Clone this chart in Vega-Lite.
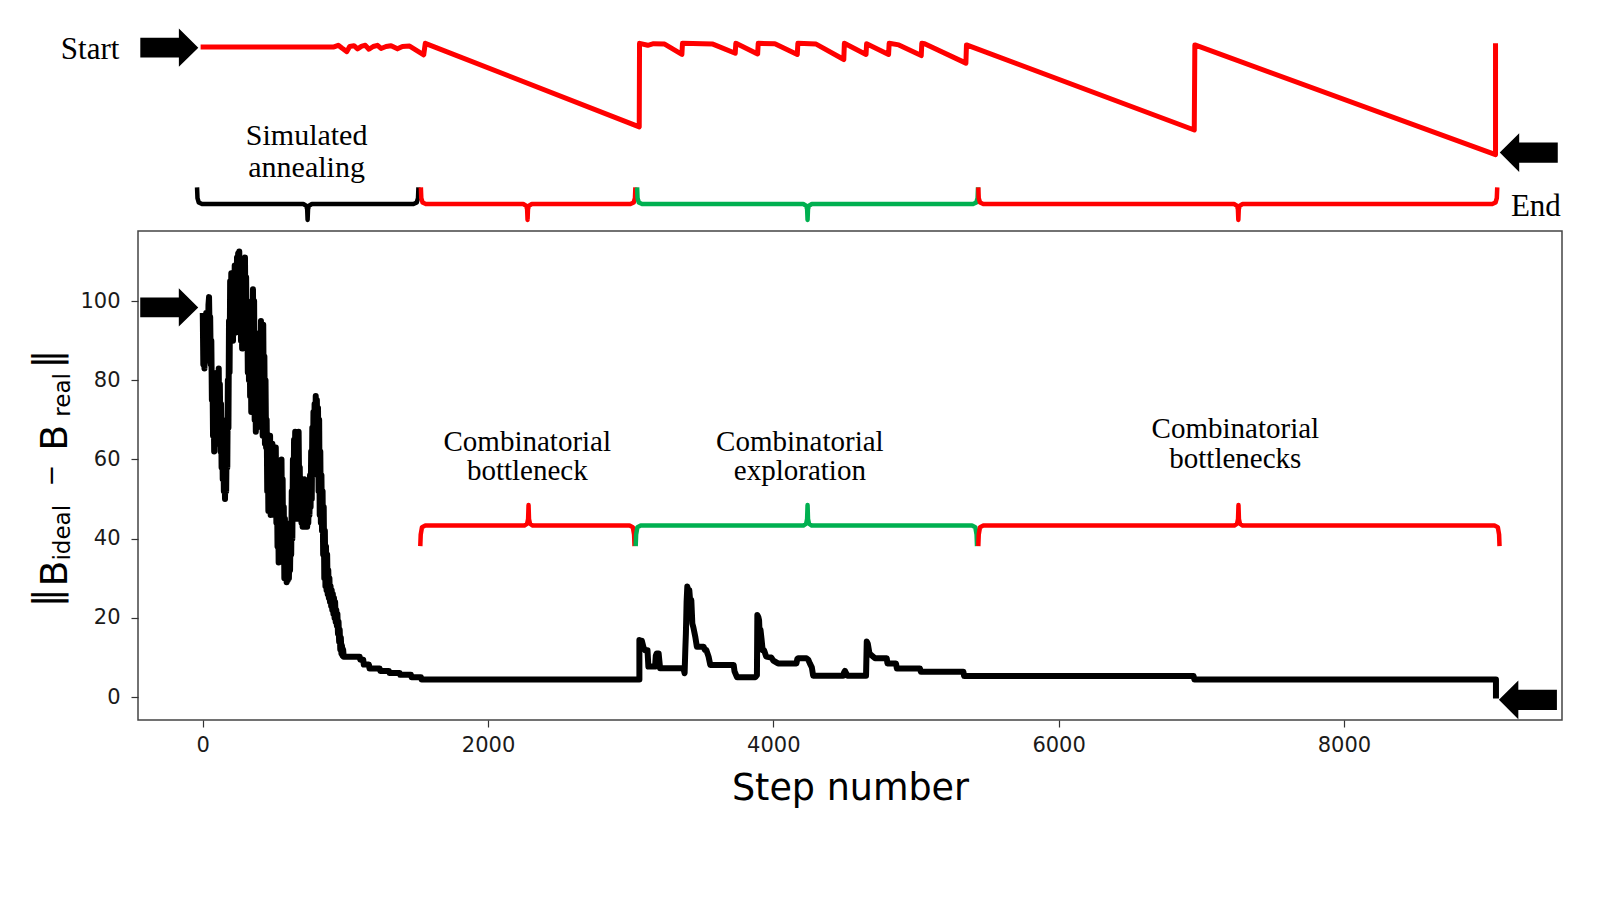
{
  "$schema": "https://vega.github.io/schema/vega-lite/v6.json",
  "width": 1424,
  "height": 489,
  "autosize": {"type": "none"},
  "padding": {"left": 138, "top": 231, "right": 38, "bottom": 180},
  "background": "white",
  "config": {"view": {"stroke": "#444444", "strokeWidth": 1.5}},
  "datasets": {
    "main": [
      {"x":0,"y":97},{"x":4,"y":84},{"x":8,"y":95},{"x":12,"y":83},{"x":16,"y":96},{"x":20,"y":86},{"x":24,"y":97},{"x":28,"y":88},{"x":32,"y":94},{"x":36,"y":85},
      {"x":40,"y":99},{"x":44,"y":101},{"x":48,"y":92},{"x":52,"y":96},{"x":56,"y":84},{"x":60,"y":90},{"x":64,"y":75},{"x":68,"y":82},{"x":72,"y":66},{"x":76,"y":78},
      {"x":80,"y":62},{"x":84,"y":72},{"x":88,"y":80},{"x":92,"y":68},{"x":96,"y":78},{"x":100,"y":64},{"x":104,"y":82},{"x":108,"y":71},{"x":112,"y":83},{"x":116,"y":66},
      {"x":120,"y":79},{"x":124,"y":62},{"x":128,"y":74},{"x":132,"y":58},{"x":136,"y":70},{"x":140,"y":55},{"x":144,"y":66},{"x":148,"y":52},{"x":152,"y":63},{"x":156,"y":50},
      {"x":160,"y":60},{"x":164,"y":52},{"x":168,"y":66},{"x":172,"y":58},{"x":176,"y":80},{"x":180,"y":68},{"x":184,"y":95},{"x":188,"y":82},{"x":192,"y":105},{"x":196,"y":90},
      {"x":200,"y":107},{"x":204,"y":95},{"x":208,"y":104},{"x":212,"y":90},{"x":216,"y":107},{"x":220,"y":94},{"x":224,"y":109},{"x":228,"y":92},{"x":232,"y":108},{"x":236,"y":96},
      {"x":240,"y":111},{"x":244,"y":100},{"x":248,"y":112},{"x":252,"y":98},{"x":256,"y":112.5},{"x":260,"y":95},{"x":264,"y":108},{"x":268,"y":90},{"x":272,"y":105},{"x":276,"y":88},
      {"x":280,"y":103},{"x":284,"y":94},{"x":288,"y":110},{"x":292,"y":97},{"x":296,"y":111},{"x":300,"y":92},{"x":304,"y":106},{"x":308,"y":88},{"x":312,"y":100},{"x":316,"y":82},
      {"x":320,"y":96},{"x":324,"y":80},{"x":328,"y":98},{"x":332,"y":76},{"x":336,"y":94},{"x":340,"y":72},{"x":344,"y":99},{"x":348,"y":80},{"x":352,"y":103},{"x":356,"y":85},
      {"x":360,"y":100},{"x":364,"y":70},{"x":368,"y":84},{"x":372,"y":67},{"x":376,"y":78},{"x":380,"y":68},{"x":384,"y":82},{"x":388,"y":70},{"x":392,"y":88},{"x":396,"y":74},
      {"x":400,"y":92},{"x":404,"y":78},{"x":408,"y":95},{"x":412,"y":70},{"x":416,"y":90},{"x":420,"y":66},{"x":424,"y":94},{"x":428,"y":72},{"x":432,"y":86},{"x":436,"y":64},
      {"x":440,"y":80},{"x":444,"y":63},{"x":448,"y":70},{"x":452,"y":52},{"x":456,"y":64},{"x":460,"y":47},{"x":464,"y":62},{"x":468,"y":50},{"x":472,"y":66},{"x":476,"y":46},
      {"x":480,"y":60},{"x":484,"y":48},{"x":488,"y":64},{"x":492,"y":52},{"x":496,"y":62},{"x":500,"y":46},{"x":504,"y":58},{"x":508,"y":48},{"x":512,"y":63},{"x":516,"y":44},
      {"x":520,"y":55},{"x":524,"y":38},{"x":528,"y":52},{"x":532,"y":34},{"x":536,"y":48},{"x":540,"y":36},{"x":544,"y":56},{"x":548,"y":40},{"x":552,"y":60},{"x":556,"y":42},
      {"x":560,"y":55},{"x":564,"y":34},{"x":568,"y":48},{"x":572,"y":30},{"x":576,"y":45},{"x":580,"y":31},{"x":584,"y":40},{"x":588,"y":29},{"x":592,"y":38},{"x":596,"y":29.5},
      {"x":600,"y":36},{"x":604,"y":30},{"x":608,"y":40},{"x":612,"y":32},{"x":616,"y":44},{"x":620,"y":36},{"x":624,"y":52},{"x":628,"y":40},{"x":632,"y":60},{"x":636,"y":48},
      {"x":640,"y":65},{"x":644,"y":52},{"x":648,"y":67},{"x":652,"y":50},{"x":656,"y":64},{"x":660,"y":45},{"x":664,"y":60},{"x":668,"y":48},{"x":672,"y":67},{"x":676,"y":52},
      {"x":680,"y":58},{"x":684,"y":45},{"x":688,"y":55},{"x":692,"y":44},{"x":696,"y":52},{"x":700,"y":43},{"x":704,"y":54},{"x":708,"y":45},{"x":712,"y":55},{"x":716,"y":43},
      {"x":720,"y":52},{"x":724,"y":44},{"x":728,"y":50},{"x":732,"y":43},{"x":736,"y":48},{"x":740,"y":44},{"x":744,"y":52},{"x":748,"y":46},{"x":752,"y":56},{"x":756,"y":48},
      {"x":760,"y":62},{"x":764,"y":50},{"x":768,"y":68},{"x":772,"y":56},{"x":776,"y":72},{"x":780,"y":60},{"x":784,"y":74},{"x":788,"y":62},{"x":792,"y":76},{"x":796,"y":64},
      {"x":800,"y":75},{"x":804,"y":58},{"x":808,"y":73},{"x":812,"y":52},{"x":816,"y":70},{"x":820,"y":46},{"x":824,"y":62},{"x":828,"y":44},{"x":832,"y":56},{"x":836,"y":42},
      {"x":840,"y":52},{"x":844,"y":36},{"x":848,"y":48},{"x":852,"y":30},{"x":856,"y":42},{"x":860,"y":28},{"x":864,"y":38},{"x":868,"y":27},{"x":872,"y":36},{"x":876,"y":26},
      {"x":880,"y":32},{"x":884,"y":25},{"x":888,"y":30},{"x":892,"y":24},{"x":896,"y":28},{"x":900,"y":23},{"x":904,"y":27},{"x":908,"y":22},{"x":912,"y":26},{"x":916,"y":21},
      {"x":920,"y":25},{"x":924,"y":20},{"x":928,"y":24},{"x":932,"y":19},{"x":936,"y":22},{"x":940,"y":18},{"x":944,"y":21},{"x":948,"y":16},{"x":952,"y":19},{"x":956,"y":14},
      {"x":960,"y":17},{"x":964,"y":12},{"x":968,"y":15},{"x":972,"y":11},{"x":976,"y":13},{"x":980,"y":10.5},{"x":984,"y":12},{"x":988,"y":10.2},{"x":1000,"y":10.2},
      {"x":1100,"y":10.2},{"x":1104,"y":9.4},{"x":1125,"y":9.4},{"x":1129,"y":8.2},{"x":1165,"y":8.2},{"x":1169,"y":7.2},{"x":1240,"y":7.2},{"x":1244,"y":6.6},{"x":1305,"y":6.6},{"x":1309,"y":6.1},
      {"x":1380,"y":6.1},{"x":1384,"y":5.6},{"x":1460,"y":5.6},{"x":1464,"y":5.0},{"x":1530,"y":5.0},{"x":1534,"y":4.4},{"x":3061,"y":4.4},{"x":3061,"y":14.4},{"x":3070,"y":13.6},{"x":3078,"y":14.2},
      {"x":3090,"y":12.5},{"x":3101,"y":11.8},{"x":3118,"y":11.8},{"x":3124,"y":7.7},{"x":3171,"y":7.7},{"x":3176,"y":10.4},{"x":3182,"y":11.0},{"x":3196,"y":11.0},{"x":3206,"y":7.3},{"x":3369,"y":7.3},
      {"x":3378,"y":6.0},{"x":3383,"y":12.0},{"x":3387,"y":16},{"x":3392,"y":24},{"x":3397,"y":27.9},{"x":3405,"y":26.5},{"x":3411,"y":27},{"x":3420,"y":22.8},{"x":3425,"y":24.5},{"x":3432,"y":18.6},
      {"x":3440,"y":17.5},{"x":3453,"y":15.2},{"x":3464,"y":12.7},{"x":3511,"y":12.7},{"x":3520,"y":11.9},{"x":3530,"y":11.9},{"x":3546,"y":10.2},{"x":3558,"y":8.1},{"x":3722,"y":8.1},{"x":3728,"y":6.5},
      {"x":3745,"y":5.0},{"x":3874,"y":5.0},{"x":3885,"y":5.5},{"x":3888,"y":20.7},{"x":3895,"y":20.2},{"x":3900,"y":19.4},{"x":3905,"y":15},{"x":3910,"y":17},{"x":3918,"y":14.4},{"x":3925,"y":11.8},
      {"x":3935,"y":11.8},{"x":3950,"y":10.2},{"x":3985,"y":10.0},{"x":4000,"y":9.2},{"x":4033,"y":8.5},{"x":4162,"y":8.5},{"x":4168,"y":9.6},{"x":4174,"y":9.8},{"x":4232,"y":9.8},{"x":4245,"y":9.4},
      {"x":4256,"y":8.5},{"x":4270,"y":7.5},{"x":4279,"y":5.4},{"x":4490,"y":5.4},{"x":4496,"y":6.2},{"x":4502,"y":6.6},{"x":4510,"y":6.0},{"x":4519,"y":5.4},{"x":4650,"y":5.4},{"x":4655,"y":14.0},
      {"x":4662,"y":13.5},{"x":4674,"y":11.0},{"x":4690,"y":10.5},{"x":4713,"y":9.8},{"x":4795,"y":9.8},{"x":4800,"y":8.5},{"x":4860,"y":8.5},{"x":4866,"y":7.2},{"x":5028,"y":7.2},{"x":5034,"y":6.4},
      {"x":5332,"y":6.4},{"x":5338,"y":5.3},{"x":6946,"y":5.3},{"x":6952,"y":4.4},{"x":9066,"y":4.4},{"x":9066,"y":-0.4}
    ],
    "top": [
      {"x":-15,"y":164.2},{"x":920,"y":164.2},{"x":950,"y":164.6},{"x":975,"y":163.9},{"x":1010,"y":163.0},{"x":1030,"y":164.3},{"x":1060,"y":164.5},{"x":1085,"y":163.7},{"x":1115,"y":164.4},{"x":1140,"y":164.6},
      {"x":1165,"y":163.6},{"x":1195,"y":164.3},{"x":1225,"y":164.6},{"x":1250,"y":163.8},{"x":1285,"y":164.3},{"x":1320,"y":164.5},{"x":1365,"y":163.7},{"x":1400,"y":164.3},{"x":1450,"y":164.4},{"x":1549,"y":162.2},
      {"x":1560,"y":165.1},{"x":3060,"y":144.0},{"x":3062,"y":165.1},{"x":3120,"y":164.6},{"x":3160,"y":165.0},{"x":3238,"y":164.9},{"x":3359,"y":162.3},{"x":3363,"y":165.1},{"x":3576,"y":164.9},{"x":3733,"y":162.6},
      {"x":3737,"y":165.1},{"x":3745,"y":165.0},{"x":3890,"y":162.4},{"x":3894,"y":165.1},{"x":4011,"y":165.0},{"x":4168,"y":162.3},{"x":4172,"y":165.1},{"x":4300,"y":164.9},{"x":4494,"y":161.0},{"x":4498,"y":165.1},
      {"x":4650,"y":162.3},{"x":4654,"y":165.0},{"x":4808,"y":162.3},{"x":4812,"y":165.1},{"x":4880,"y":164.7},{"x":5037,"y":162.0},{"x":5041,"y":165.1},{"x":5061,"y":165.0},{"x":5350,"y":160.1},{"x":5354,"y":164.7},
      {"x":6951,"y":143.2},{"x":6955,"y":164.7},{"x":9063,"y":137.0},{"x":9063,"y":165.1}
    ],
    "brackets": [
      {"b":"T1","phase":"annealing","x":-40,"y":128.7},{"b":"T1","phase":"annealing","x":-37,"y":126.0},{"b":"T1","phase":"annealing","x":-28,"y":124.9},{"b":"T1","phase":"annealing","x":-5,"y":124.5},{"b":"T1","phase":"annealing","x":705,"y":124.5},{"b":"T1","phase":"annealing","x":725,"y":124.1},{"b":"T1","phase":"annealing","x":732,"y":123.2},{"b":"T1","phase":"annealing","x":735,"y":120.5},{"b":"T1","phase":"annealing","x":738,"y":123.2},{"b":"T1","phase":"annealing","x":745,"y":124.1},{"b":"T1","phase":"annealing","x":765,"y":124.5},{"b":"T1","phase":"annealing","x":1477,"y":124.5},{"b":"T1","phase":"annealing","x":1500,"y":124.9},{"b":"T1","phase":"annealing","x":1509,"y":126.0},{"b":"T1","phase":"annealing","x":1512,"y":128.7},
      {"b":"T2","phase":"bottleneck","x":1529,"y":128.7},{"b":"T2","phase":"bottleneck","x":1532,"y":126.0},{"b":"T2","phase":"bottleneck","x":1541,"y":124.9},{"b":"T2","phase":"bottleneck","x":1564,"y":124.5},{"b":"T2","phase":"bottleneck","x":2247,"y":124.5},{"b":"T2","phase":"bottleneck","x":2267,"y":124.1},{"b":"T2","phase":"bottleneck","x":2274,"y":123.2},{"b":"T2","phase":"bottleneck","x":2277,"y":120.5},{"b":"T2","phase":"bottleneck","x":2280,"y":123.2},{"b":"T2","phase":"bottleneck","x":2287,"y":124.1},{"b":"T2","phase":"bottleneck","x":2307,"y":124.5},{"b":"T2","phase":"bottleneck","x":2998,"y":124.5},{"b":"T2","phase":"bottleneck","x":3021,"y":124.9},{"b":"T2","phase":"bottleneck","x":3030,"y":126.0},{"b":"T2","phase":"bottleneck","x":3033,"y":128.7},
      {"b":"T3","phase":"exploration","x":3045,"y":128.7},{"b":"T3","phase":"exploration","x":3048,"y":126.0},{"b":"T3","phase":"exploration","x":3057,"y":124.9},{"b":"T3","phase":"exploration","x":3080,"y":124.5},{"b":"T3","phase":"exploration","x":4210,"y":124.5},{"b":"T3","phase":"exploration","x":4230,"y":124.1},{"b":"T3","phase":"exploration","x":4237,"y":123.2},{"b":"T3","phase":"exploration","x":4240,"y":120.5},{"b":"T3","phase":"exploration","x":4243,"y":123.2},{"b":"T3","phase":"exploration","x":4250,"y":124.1},{"b":"T3","phase":"exploration","x":4270,"y":124.5},{"b":"T3","phase":"exploration","x":5400,"y":124.5},{"b":"T3","phase":"exploration","x":5423,"y":124.9},{"b":"T3","phase":"exploration","x":5432,"y":126.0},{"b":"T3","phase":"exploration","x":5435,"y":128.7},
      {"b":"T4","phase":"bottleneck","x":5437,"y":128.7},{"b":"T4","phase":"bottleneck","x":5440,"y":126.0},{"b":"T4","phase":"bottleneck","x":5449,"y":124.9},{"b":"T4","phase":"bottleneck","x":5472,"y":124.5},{"b":"T4","phase":"bottleneck","x":7230,"y":124.5},{"b":"T4","phase":"bottleneck","x":7250,"y":124.1},{"b":"T4","phase":"bottleneck","x":7257,"y":123.2},{"b":"T4","phase":"bottleneck","x":7260,"y":120.5},{"b":"T4","phase":"bottleneck","x":7263,"y":123.2},{"b":"T4","phase":"bottleneck","x":7270,"y":124.1},{"b":"T4","phase":"bottleneck","x":7290,"y":124.5},{"b":"T4","phase":"bottleneck","x":9040,"y":124.5},{"b":"T4","phase":"bottleneck","x":9063,"y":124.9},{"b":"T4","phase":"bottleneck","x":9072,"y":126.0},{"b":"T4","phase":"bottleneck","x":9075,"y":128.7},
      {"b":"M1","phase":"bottleneck","x":1525,"y":38.1},{"b":"M1","phase":"bottleneck","x":1528,"y":41.0},{"b":"M1","phase":"bottleneck","x":1537,"y":42.9},{"b":"M1","phase":"bottleneck","x":1560,"y":43.3},{"b":"M1","phase":"bottleneck","x":2254,"y":43.3},{"b":"M1","phase":"bottleneck","x":2274,"y":43.8},{"b":"M1","phase":"bottleneck","x":2281,"y":45.0},{"b":"M1","phase":"bottleneck","x":2284,"y":48.5},{"b":"M1","phase":"bottleneck","x":2287,"y":45.0},{"b":"M1","phase":"bottleneck","x":2294,"y":43.8},{"b":"M1","phase":"bottleneck","x":2314,"y":43.3},{"b":"M1","phase":"bottleneck","x":2992,"y":43.3},{"b":"M1","phase":"bottleneck","x":3015,"y":42.9},{"b":"M1","phase":"bottleneck","x":3024,"y":41.0},{"b":"M1","phase":"bottleneck","x":3027,"y":38.1},
      {"b":"M2","phase":"exploration","x":3035,"y":38.1},{"b":"M2","phase":"exploration","x":3038,"y":41.0},{"b":"M2","phase":"exploration","x":3047,"y":42.9},{"b":"M2","phase":"exploration","x":3070,"y":43.3},{"b":"M2","phase":"exploration","x":4210,"y":43.3},{"b":"M2","phase":"exploration","x":4230,"y":43.8},{"b":"M2","phase":"exploration","x":4237,"y":45.0},{"b":"M2","phase":"exploration","x":4240,"y":48.5},{"b":"M2","phase":"exploration","x":4243,"y":45.0},{"b":"M2","phase":"exploration","x":4250,"y":43.8},{"b":"M2","phase":"exploration","x":4270,"y":43.3},{"b":"M2","phase":"exploration","x":5393,"y":43.3},{"b":"M2","phase":"exploration","x":5416,"y":42.9},{"b":"M2","phase":"exploration","x":5425,"y":41.0},{"b":"M2","phase":"exploration","x":5428,"y":38.1},
      {"b":"M3","phase":"bottleneck","x":5437,"y":38.1},{"b":"M3","phase":"bottleneck","x":5440,"y":41.0},{"b":"M3","phase":"bottleneck","x":5449,"y":42.9},{"b":"M3","phase":"bottleneck","x":5472,"y":43.3},{"b":"M3","phase":"bottleneck","x":7231,"y":43.3},{"b":"M3","phase":"bottleneck","x":7251,"y":43.8},{"b":"M3","phase":"bottleneck","x":7258,"y":45.0},{"b":"M3","phase":"bottleneck","x":7261,"y":48.5},{"b":"M3","phase":"bottleneck","x":7264,"y":45.0},{"b":"M3","phase":"bottleneck","x":7271,"y":43.8},{"b":"M3","phase":"bottleneck","x":7291,"y":43.3},{"b":"M3","phase":"bottleneck","x":9056,"y":43.3},{"b":"M3","phase":"bottleneck","x":9079,"y":42.9},{"b":"M3","phase":"bottleneck","x":9088,"y":41.0},{"b":"M3","phase":"bottleneck","x":9091,"y":38.1}
    ],
    "arrows": [
      {"x":-234.5,"y":164.0,"dir":"right"},
      {"x":-235,"y":98.4,"dir":"right"},
      {"x":9296,"y":137.5,"dir":"left"},
      {"x":9290,"y":-0.7,"dir":"left"}
    ],
    "labels": [
      {"x":-790,"y":161.1,"t":"Start"},
      {"x":9346,"y":121.5,"t":"End"}
    ],
    "annealLabel": [
      {"x":728,"y":139.4,"t":"Simulated\nannealing"}
    ],
    "phaseLabels": [
      {"x":2275,"y":62.2,"t":"Combinatorial\nbottleneck"},
      {"x":4186,"y":62.2,"t":"Combinatorial\nexploration"},
      {"x":7239,"y":65.3,"t":"Combinatorial\nbottlenecks"}
    ],
    "ylabel": [
      {"x":-1084,"y":25.1,"t":"‖","kind":"bar"},
      {"x":-953,"y":31.2,"t":"B","kind":"big"},
      {"x":-930,"y":41.5,"t":"ideal","kind":"sub"},
      {"x":-1060,"y":55.9,"t":"−","kind":"minus"},
      {"x":-953,"y":65.5,"t":"B","kind":"big"},
      {"x":-930,"y":76.3,"t":"real","kind":"sub"},
      {"x":-1084,"y":85.4,"t":"‖","kind":"bar"}
    ]
  },
  "encoding": {
    "x": {"field": "x", "type": "quantitative",
          "scale": {"domain": [-454, 9529], "nice": false, "zero": false},
          "axis": {"values": [0, 2000, 4000, 6000, 8000], "format": "d", "grid": false, "domain": false,
                   "tickSize": 7, "tickColor": "#333333", "tickWidth": 1.2,
                   "labelFont": "DejaVu Sans", "labelFontSize": 21, "labelColor": "#1a1a1a", "labelPadding": 7,
                   "title": "Step number", "titleFont": "DejaVu Sans", "titleFontSize": 36.5, "titleFontWeight": "normal",
                   "titleColor": "#000000", "titleY": 79, "titleBaseline": "alphabetic"}},
    "y": {"field": "y", "type": "quantitative",
          "scale": {"domain": [-5.8, 117.7], "nice": false, "zero": false},
          "axis": {"values": [0, 20, 40, 60, 80, 100], "format": "d", "grid": false, "domain": false,
                   "tickSize": 7, "tickColor": "#333333", "tickWidth": 1.2,
                   "labelFont": "DejaVu Sans", "labelFontSize": 21, "labelColor": "#1a1a1a", "labelPadding": 11,
                   "title": null}}
  },
  "layer": [
    {
      "data": {"name": "main"},
      "mark": {"type": "line", "color": "#000000", "strokeWidth": 6, "strokeJoin": "round", "clip": false},
      "encoding": {"order": {"value": null}}
    },
    {
      "data": {"name": "top"},
      "mark": {"type": "line", "color": "#ff0000", "strokeWidth": 5, "strokeJoin": "round", "clip": false},
      "encoding": {"order": {"value": null}}
    },
    {
      "data": {"name": "brackets"},
      "mark": {"type": "line", "strokeWidth": 4.5, "strokeJoin": "round", "clip": false},
      "encoding": {
        "detail": {"field": "b"},
        "color": {"field": "phase", "type": "nominal",
                  "scale": {"domain": ["annealing", "bottleneck", "exploration"], "range": ["#000000", "#ff0000", "#00b050"]},
                  "legend": null},
        "order": {"value": null}
      }
    },
    {
      "data": {"name": "arrows"},
      "mark": {"type": "point", "filled": true, "color": "#000000", "opacity": 1, "size": 3364, "clip": false},
      "encoding": {
        "shape": {"field": "dir", "type": "nominal",
                  "scale": {"domain": ["right", "left"],
                            "range": ["M-1,-0.34L0.33,-0.34L0.33,-0.66L1,0L0.33,0.66L0.33,0.34L-1,0.34Z",
                                      "M1,-0.35L-0.33,-0.35L-0.33,-0.67L-1,0L-0.33,0.67L-0.33,0.35L1,0.35Z"]},
                  "legend": null}
      }
    },
    {
      "data": {"name": "labels"},
      "mark": {"type": "text", "font": "Liberation Serif", "fontSize": 31, "color": "#000000", "align": "center", "baseline": "alphabetic", "clip": false},
      "encoding": {"text": {"field": "t"}}
    },
    {
      "data": {"name": "annealLabel"},
      "mark": {"type": "text", "font": "Liberation Serif", "fontSize": 30, "color": "#000000", "align": "center", "baseline": "alphabetic", "lineBreak": "\n", "lineHeight": 31.5, "clip": false},
      "encoding": {"text": {"field": "t"}}
    },
    {
      "data": {"name": "phaseLabels"},
      "mark": {"type": "text", "font": "Liberation Serif", "fontSize": 29, "color": "#000000", "align": "center", "baseline": "alphabetic", "lineBreak": "\n", "lineHeight": 29.5, "clip": false},
      "encoding": {"text": {"field": "t"}}
    },
    {
      "data": {"name": "ylabel"},
      "transform": [{"filter": "datum.kind == 'big'"}],
      "mark": {"type": "text", "font": "DejaVu Sans", "fontSize": 38, "color": "#000000", "align": "center", "baseline": "alphabetic", "angle": 270, "clip": false},
      "encoding": {"text": {"field": "t"}}
    },
    {
      "data": {"name": "ylabel"},
      "transform": [{"filter": "datum.kind == 'sub'"}],
      "mark": {"type": "text", "font": "DejaVu Sans", "fontSize": 23, "color": "#000000", "align": "center", "baseline": "alphabetic", "angle": 270, "clip": false},
      "encoding": {"text": {"field": "t"}}
    },
    {
      "data": {"name": "ylabel"},
      "transform": [{"filter": "datum.kind == 'bar'"}],
      "mark": {"type": "text", "font": "DejaVu Sans", "fontSize": 38, "color": "#000000", "align": "center", "baseline": "middle", "angle": 270, "clip": false},
      "encoding": {"text": {"field": "t"}}
    },
    {
      "data": {"name": "ylabel"},
      "transform": [{"filter": "datum.kind == 'minus'"}],
      "mark": {"type": "text", "font": "DejaVu Sans", "fontSize": 26, "color": "#000000", "align": "center", "baseline": "middle", "angle": 270, "clip": false},
      "encoding": {"text": {"field": "t"}}
    }
  ]
}
